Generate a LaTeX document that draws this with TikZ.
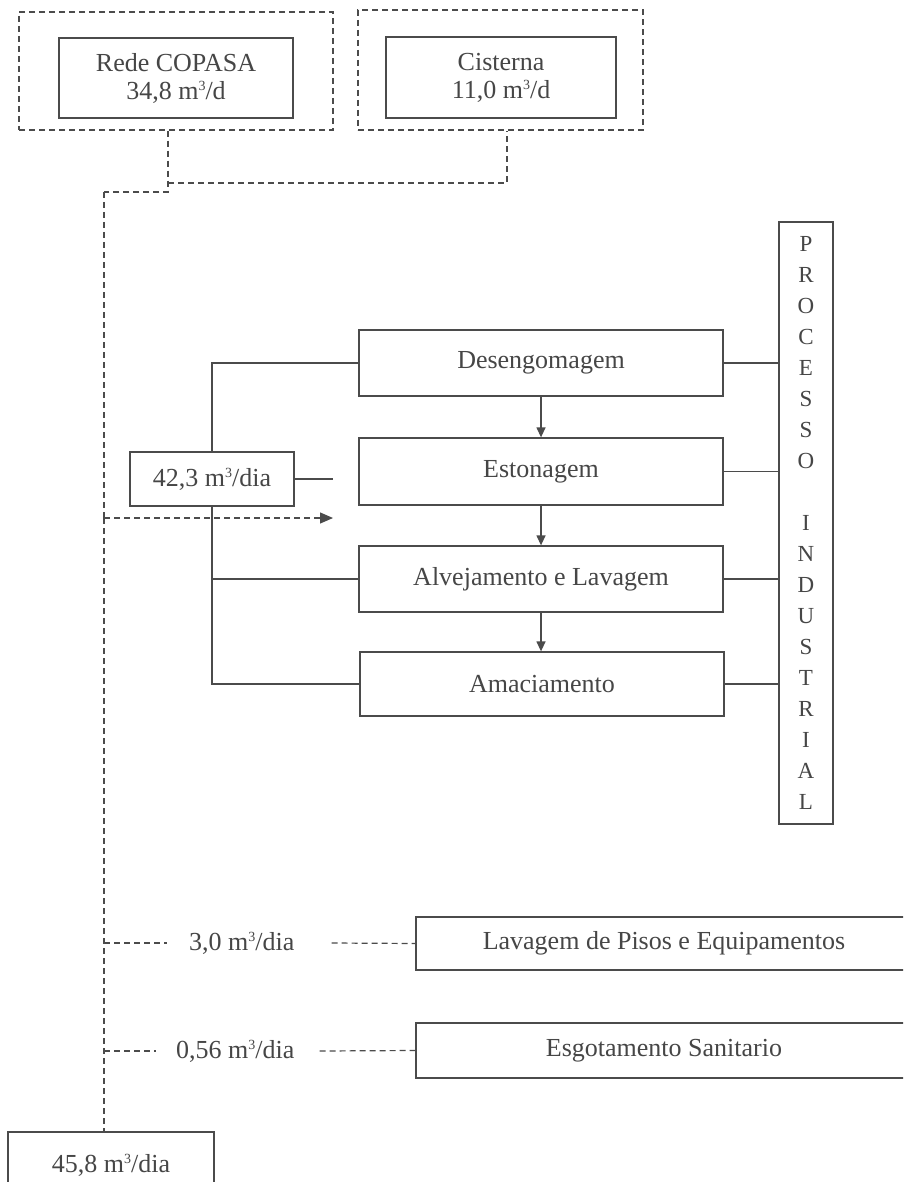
\documentclass[tikz,border=0pt]{standalone}
\usepackage{fontspec}
\setmainfont{Liberation Serif}
\usetikzlibrary{arrows.meta}
\definecolor{ln}{RGB}{75,75,75}
\definecolor{tx}{RGB}{70,70,70}
\newcommand{\cubo}{\raisebox{0.75ex}{\fontsize{14}{14}\selectfont 3}}
\begin{document}
\begin{tikzpicture}[x=1pt,y=-1pt,
  every node/.style={font=\fontsize{26}{28}\selectfont, text=tx},
  box/.style={draw=ln, line width=1.3pt, fill=white, inner sep=0pt, align=center},
  dbox/.style={draw=ln, line width=1.2pt, dash pattern=on 6pt off 4pt, inner sep=0pt},
  dsh/.style={draw=ln, line width=1.2pt, dash pattern=on 6pt off 4pt},
  sol/.style={draw=ln, line width=1.3pt},
  lbl/.style={inner sep=0pt, anchor=west}]
\useasboundingbox (0,0) rectangle (903,1182);
\clip (0,0) rectangle (903,1182);
\fill[white] (0,0) rectangle (903,1182);

% top sources
\node[dbox, minimum width=314pt, minimum height=118pt] (redeo) at (176,71) {};
\node[box, minimum width=234pt, minimum height=80pt] (rede) at (176,78) {Rede COPASA\\34,8 m\cubo/d};
\node[dbox, minimum width=285pt, minimum height=120pt] (cisto) at (500.5,70) {};
\node[box, minimum width=230pt, minimum height=81pt] (cist) at (501,77.5) {Cisterna\\11,0 m\cubo/d};

\coordinate (j0) at (104,192);
\coordinate (j1) at (168,192);
\coordinate (j2) at (168,183);
\coordinate (j3) at (507,183);
\draw[dsh] (j1 |- redeo.south) -- (j1) -- (j0);
\draw[dsh] (j2) -- (j3) -- (j3 |- cisto.south);

% process boxes
\node[box, minimum width=364pt, minimum height=66pt] (desen) at (541,363) {Desengomagem};
\node[box, minimum width=364pt, minimum height=67pt] (eston) at (541,471.5) {Estonagem};
\node[box, minimum width=364pt, minimum height=66pt] (alvej) at (541,579) {Alvejamento e Lavagem};
\node[box, minimum width=364pt, minimum height=64pt] (amac) at (542,684) {Amaciamento};

\node[box, minimum width=54pt, minimum height=602pt, font=\fontsize{23}{31}\selectfont] (proc) at (806,523)
  {P\\R\\O\\C\\E\\S\\S\\O\\\mbox{}\\I\\N\\D\\U\\S\\T\\R\\I\\A\\L};

\foreach \n in {desen,eston,alvej,amac}
  \draw[sol] (\n.east) -- (\n.east -| proc.west);

\draw[sol, -{Triangle[length=10pt,width=9pt]}] (desen.south) -- (eston.north);
\draw[sol, -{Triangle[length=10pt,width=9pt]}] (eston.south) -- (alvej.north);
\draw[sol, -{Triangle[length=10pt,width=9pt]}] (alvej.south) -- ([xshift=-1pt]amac.north);

% left supply bus
\draw[sol] (desen.west) -| (212,452);
\draw[sol] (212,506) |- (amac.west);
\draw[sol] (212,579) -- (alvej.west);

\coordinate (a0) at (104,518);
\coordinate (a1) at (333,518);
\draw[dsh] (j0) -- (a0);
\node[box, minimum width=164pt, minimum height=54pt] (n423) at (212,479) {42,3 m\cubo/dia};
\draw[sol] (n423.east) -- (n423.east -| a1);
\draw[dsh, -{Triangle[length=13pt,width=11pt]}] (a0) -- (a1);

% bottom consumers
\node[box, minimum width=496pt, minimum height=53pt] (lav) at (664,943.5) {Lavagem de Pisos e Equipamentos};
\node[box, minimum width=496pt, minimum height=55pt] (esg) at (664,1050.5) {Esgotamento Sanitario};
\node[box, minimum width=206pt, minimum height=66pt] (n458) at (111,1165) {45,8 m\cubo/dia};

\draw[dsh] (a0) -- (a0 |- n458.north);

\coordinate (v1) at (104,943);
\coordinate (v2) at (104,1051);
\node[lbl] (l1) at (189,943) {3,0 m\cubo/dia};
\node[lbl] (l2) at (176,1051) {0,56 m\cubo/dia};
\draw[dsh] (v1) -- ([xshift=-22pt]l1.west);
\draw[dsh] ([xshift=37pt]l1.east) -- (lav.west);
\draw[dsh] (v2) -- ([xshift=-20pt]l2.west);
\draw[dsh] ([xshift=25pt]l2.east) -- (esg.west);
\end{tikzpicture}
\end{document}
